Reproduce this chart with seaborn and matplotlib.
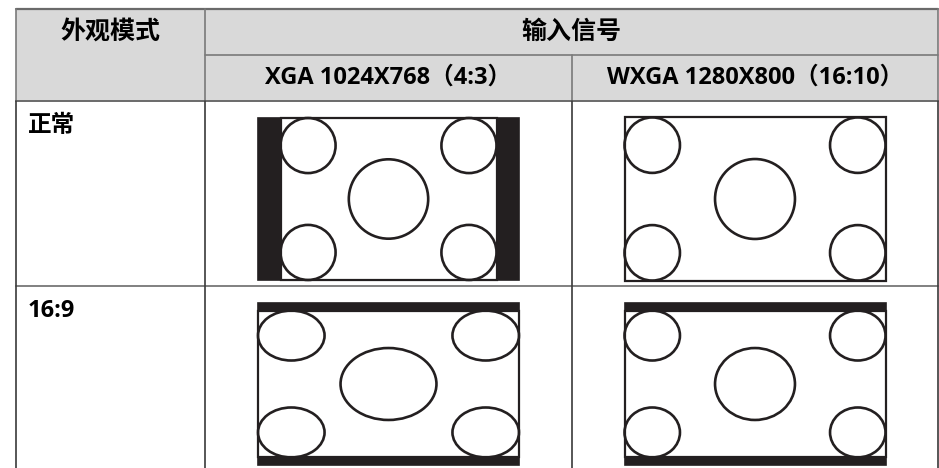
import matplotlib
matplotlib.use("Agg")
import matplotlib.pyplot as plt
from matplotlib.patches import Rectangle, Ellipse
import seaborn as sns

# Contenuto della tabella
intestazione_modo = "外观模式"
intestazione_segnale = "输入信号"
modi = ["正常", "16:9"]
segnali = ["XGA 1024X768（4:3）", "WXGA 1280X800（16:10）"]
aspetto_segnale = [4 / 3, 16 / 10]   # rapporto del segnale in ingresso
aspetto_modo = [None, 16 / 9]        # None = mantiene il rapporto del segnale
aspetto_pannello = 16 / 10

# Cerchi dell'immagine di prova (in unita' di altezza dell'immagine sorgente)
raggio_angolo = 0.17
raggio_centro = 0.245

sns.set_theme(style="white")
plt.rcParams['font.family'] = ['Open Sans', 'Noto Sans CJK SC', 'DejaVu Sans']

NERO = "#231f20"
GRIGIO_TESTA = "#d9d9d9"

# Geometria in pixel
col_x = [16, 205, 572, 938]
riga_y = [9, 55, 101, 286, 475]
pann_w, pann_h = 261, 162
pann_dy = 17


def disegna_schermo(ax, cx, top, a_src, a_modo):
    x0 = cx - pann_w / 2
    ax.add_patch(Rectangle((x0, top), pann_w, pann_h, facecolor=NERO,
                           edgecolor=NERO, lw=1.2, zorder=2))
    a = a_src if a_modo is None else a_modo
    if a < aspetto_pannello:
        ch = pann_h
        cw = ch * a
    else:
        cw = pann_w
        ch = cw / a
    cx0 = cx - cw / 2
    cy0 = top + (pann_h - ch) / 2
    ax.add_patch(Rectangle((cx0, cy0), cw, ch, facecolor="white",
                           edgecolor=NERO, lw=1.6, zorder=3))
    sx = cw / a_src
    sy = ch
    r = raggio_angolo
    centri = [(r, r), (a_src - r, r), (r, 1 - r), (a_src - r, 1 - r)]
    for (ux, uy) in centri:
        ax.add_patch(Ellipse((cx0 + ux * sx, cy0 + uy * sy), 2 * r * sx, 2 * r * sy,
                             facecolor="none", edgecolor=NERO, lw=1.9, zorder=4))
    rc = raggio_centro
    ax.add_patch(Ellipse((cx0 + a_src / 2 * sx, cy0 + 0.5 * sy), 2 * rc * sx, 2 * rc * sy,
                         facecolor="none", edgecolor=NERO, lw=1.9, zorder=4))


fig = plt.figure(figsize=(9.39, 4.68), dpi=100)
ax = fig.add_axes([0, 0, 1, 1])
ax.set_xlim(0, 939)
ax.set_ylim(468, 0)
ax.axis("off")

# Sfondo dell'intestazione
ax.add_patch(Rectangle((col_x[0], riga_y[0]), col_x[3] - col_x[0], riga_y[2] - riga_y[0],
                       facecolor=GRIGIO_TESTA, edgecolor="none", zorder=0))

# Linee della tabella
ax.plot([col_x[0], col_x[3]], [riga_y[0], riga_y[0]], color="#6a6a6a", lw=1.6, zorder=1)
ax.plot([col_x[1], col_x[3]], [riga_y[1], riga_y[1]], color="#7a7a7a", lw=1.2, zorder=1)
ax.plot([col_x[0], col_x[3]], [riga_y[2], riga_y[2]], color="#6a6a6a", lw=1.4, zorder=1)
ax.plot([col_x[0], col_x[3]], [riga_y[3], riga_y[3]], color="#808080", lw=1.4, zorder=1)
for i, x in enumerate(col_x):
    y_inizio = riga_y[1] if i == 2 else riga_y[0]
    ax.plot([x, x], [y_inizio, riga_y[2]], color="#7a7a7a", lw=1.2, zorder=1)
    ax.plot([x, x], [riga_y[2], riga_y[4]], color="#3a3a3a", lw=1.2, zorder=1)

# Testi dell'intestazione
ax.text((col_x[0] + col_x[1]) / 2, (riga_y[0] + riga_y[1]) / 2, intestazione_modo,
        ha="center", va="center", fontsize=18, fontweight="bold", color="black")
ax.text((col_x[1] + col_x[3]) / 2, (riga_y[0] + riga_y[1]) / 2, intestazione_segnale,
        ha="center", va="center", fontsize=18, fontweight="bold", color="black")
for j, s in enumerate(segnali):
    ax.text((col_x[j + 1] + col_x[j + 2]) / 2, (riga_y[1] + riga_y[2]) / 2, s,
            ha="center", va="center", fontsize=17, fontweight="bold", color="black")

# Righe con i modi e gli schermi
for i, m in enumerate(modi):
    top = riga_y[i + 2]
    ax.text(col_x[0] + 12, top + 31, m, ha="left", va="baseline",
            fontsize=17, fontweight="bold", color="black")
    for j in range(len(segnali)):
        cx = (col_x[j + 1] + col_x[j + 2]) / 2
        disegna_schermo(ax, cx, top + pann_dy, aspetto_segnale[j], aspetto_modo[i])

fig.savefig("out.png", dpi=100)
